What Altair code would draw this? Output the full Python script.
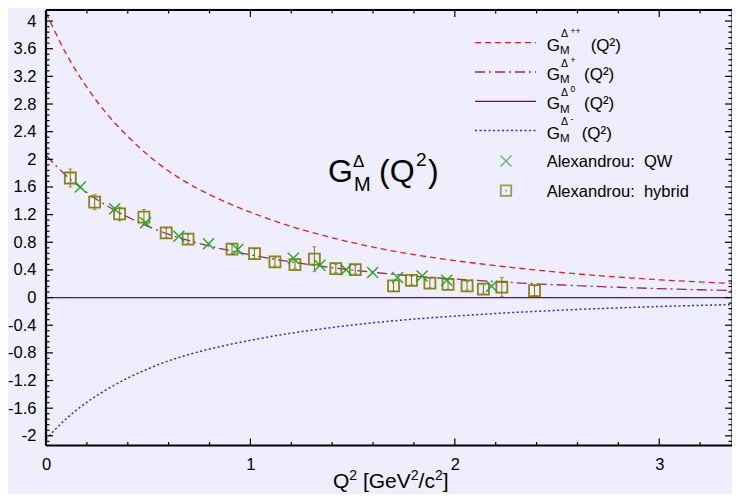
import altair as alt
import pandas as pd

# ---------------- data ----------------
curve_q2 = [0, 0.1, 0.2, 0.3, 0.4, 0.5, 0.6, 0.7, 0.8, 0.9, 1.0, 1.2, 1.4, 1.6, 1.8,
            2.0, 2.2, 2.4, 2.6, 2.8, 3.0, 3.2, 3.4]
g_pp = [4.12, 3.52, 3.04, 2.65, 2.33, 2.06, 1.83, 1.645, 1.49, 1.355, 1.235, 1.03,
        0.865, 0.73, 0.622, 0.535, 0.462, 0.398, 0.343, 0.297, 0.258, 0.226, 0.198]
g_p = [2.06, 1.76, 1.52, 1.325, 1.165, 1.03, 0.915, 0.823, 0.745, 0.678, 0.618, 0.515,
       0.433, 0.365, 0.311, 0.268, 0.231, 0.199, 0.172, 0.149, 0.129, 0.113, 0.099]
g_m = [-2.05, -1.75, -1.515, -1.325, -1.165, -1.03, -0.915, -0.823, -0.745, -0.678,
       -0.618, -0.515, -0.433, -0.365, -0.311, -0.268, -0.231, -0.199, -0.172,
       -0.149, -0.129, -0.113, -0.099]
g_0_q2 = [0, 3.4]
g_0 = [0, 0]

qw_q2 = [0.168, 0.336, 0.487, 0.65, 0.795, 0.938, 1.21, 1.34, 1.468, 1.598, 1.72,
         1.84, 1.96, 2.18]
qw_g = [1.598, 1.286, 1.084, 0.886, 0.78, 0.694, 0.57, 0.467, 0.404, 0.361, 0.289,
        0.312, 0.25, 0.163]

hy_q2 = [0.119, 0.238, 0.36, 0.479, 0.588, 0.695, 0.91, 1.02, 1.12, 1.218, 1.313,
         1.418, 1.513, 1.70, 1.788, 1.878, 1.967, 2.06, 2.14, 2.23, 2.39]
hy_g = [1.73, 1.38, 1.21, 1.165, 0.935, 0.845, 0.70, 0.635, 0.515, 0.478, 0.555,
        0.42, 0.405, 0.168, 0.25, 0.21, 0.19, 0.17, 0.122, 0.152, 0.10]
hy_err = [0.13, 0.11, 0.10, 0.11, 0.07, 0.07, 0.07, 0.07, 0.06, 0.06, 0.18,
          0.06, 0.06, 0.08, 0.06, 0.07, 0.07, 0.06, 0.06, 0.14, 0.07]

x_major = [0, 1, 2, 3]
y_major = [-2, -1.6, -1.2, -0.8, -0.4, 0, 0.4, 0.8, 1.2, 1.6, 2, 2.4, 2.8, 3.2, 3.6, 4]
# x-axis title "Q^2 [GeV^2/c^2]" as (text, superscript?, gap before) pieces
x_title_parts = [("Q", False, 0), ("2", True, 0), ("[GeV", False, 5.8), ("2", True, 0),
                 ("/c", False, 0), ("2", True, 0), ("]", False, 0)]

# ---------------- layout / style ----------------
W = 686
H = 435.5
X_DOM = [0, 3.356]
Y_DOM = [-2.14, 4.16]
FONT = "Liberation Sans"
BG = "#eeeeff"
C_PP = "#e0202c"
C_P = "#9a2466"
C_0 = "#4a1486"
C_M = "#2a2ae6"
C_QW = "#1faa1f"
C_HY = "#7c7a00"

xs = alt.Scale(domain=X_DOM, nice=False, zero=False)
ys = alt.Scale(domain=Y_DOM, nice=False, zero=False)
XA = alt.Axis(values=x_major, title=None, ticks=False, domain=False,
              grid=False, labelPadding=11, labelFontSize=16.5, labelColor="black",
              labelFont=FONT, labelFlush=False)
YA = alt.Axis(values=y_major, title=None, ticks=False, domain=False, grid=False,
              labelPadding=10, labelFontSize=16.5, labelColor="black",
              labelFont=FONT, labelFlush=False,
              labelExpr="datum.value < 0 ? '-' + format(-datum.value, '.1~f') : format(datum.value, '.1~f')")
one = pd.DataFrame({"a": [0]})


def ex(f):
    return alt.X(f"{f}:Q", scale=xs, axis=XA)


def ey(f):
    return alt.Y(f"{f}:Q", scale=ys, axis=YA)


def curve(q, g, color, dash, width=1.3):
    df = pd.DataFrame({"q2": q, "g": g})
    mk = dict(color=color, strokeWidth=width, interpolate="monotone", clip=True)
    if dash:
        mk["strokeDash"] = dash
    return alt.Chart(df).mark_line(**mk).encode(x=ex("q2"), y=ey("g"))


DASH_PP = [6, 4]
DASH_P = [10, 4, 2, 4]
DASH_M = [2, 2.5]

layers = []
layers.append(curve(g_0_q2, g_0, C_0, None, 1.3))
layers.append(curve(curve_q2, g_pp, C_PP, DASH_PP))
layers.append(curve(curve_q2, g_p, C_P, DASH_P))
layers.append(curve(curve_q2, g_m, C_M, DASH_M, 1.5))

# ---- hybrid data with error bars ----
hy = pd.DataFrame({"q2": hy_q2, "g": hy_g, "err": hy_err})
hy["lo"] = hy["g"] - hy["err"]
hy["hi"] = hy["g"] + hy["err"]
layers.append(alt.Chart(hy).mark_rule(color=C_HY, strokeWidth=1).encode(
    x=ex("q2"), y=ey("lo"), y2="hi:Q"))
for col in ["lo", "hi"]:
    layers.append(alt.Chart(hy).mark_point(shape="M-1,0L1,0", size=16, color=C_HY,
                                           strokeWidth=1, filled=False).encode(
        x=ex("q2"), y=ey(col)))
layers.append(alt.Chart(hy).mark_point(shape="square", size=121, filled=False, color=C_HY,
                                       strokeWidth=1.8, opacity=0.9).encode(
    x=ex("q2"), y=ey("g")))

# ---- QW data ----
qw = pd.DataFrame({"q2": qw_q2, "g": qw_g})
XSHAPE = "M-1,-1L1,1M-1,1L1,-1"
layers.append(alt.Chart(qw).mark_point(shape=XSHAPE, size=121, filled=False, color=C_QW,
                                       strokeWidth=1.4, opacity=1).encode(
    x=ex("q2"), y=ey("g")))

# ---- frame ticks (inward) ----
yidx = list(range(-26, 53))
ytick = pd.DataFrame({"v": [round(i * 0.08, 2) for i in yidx],
                      "major": [i % 5 == 0 for i in yidx]})
xidx = list(range(0, 17))
xtick = pd.DataFrame({"v": [round(i * 0.2, 2) for i in xidx],
                      "major": [i % 5 == 0 for i in xidx]})

for major, ln in [(True, 7), (False, 3.5)]:
    yd = ytick[ytick["major"] == major]
    xd = xtick[xtick["major"] == major]
    layers.append(alt.Chart(yd).mark_rule(color="black", strokeWidth=1.2).encode(
        y=ey("v"), x=alt.value(0), x2=alt.value(ln)))
    layers.append(alt.Chart(yd).mark_rule(color="black", strokeWidth=1.2).encode(
        y=ey("v"), x=alt.value(W), x2=alt.value(W - ln)))
    layers.append(alt.Chart(xd).mark_rule(color="black", strokeWidth=1.2).encode(
        x=ex("v"), y=alt.value(H), y2=alt.value(H - ln)))
    layers.append(alt.Chart(xd).mark_rule(color="black", strokeWidth=1.2).encode(
        x=ex("v"), y=alt.value(0), y2=alt.value(ln)))

# ---- frame border ----
layers.append(alt.Chart(one).mark_rule(color="black", strokeWidth=2.2).encode(
    x=alt.value(0), y=alt.value(0), y2=alt.value(H)))
layers.append(alt.Chart(one).mark_rule(color="black", strokeWidth=2.2).encode(
    x=alt.value(0), x2=alt.value(W), y=alt.value(H)))
layers.append(alt.Chart(one).mark_rule(color="black", strokeWidth=2.2).encode(
    x=alt.value(0), x2=alt.value(W), y=alt.value(0)))
layers.append(alt.Chart(one).mark_rule(color="black", strokeWidth=1).encode(
    x=alt.value(W), y=alt.value(0), y2=alt.value(H)))


def txt(s, x, y, size, baseline="alphabetic", align="left"):
    return alt.Chart(one).mark_text(text=s, align=align, baseline=baseline,
                                    fontSize=size, font=FONT, color="black").encode(
        x=alt.value(x), y=alt.value(y))


# ---- x axis title (pieces, superscripts raised) ----
EM = {"Q": 0.778, "2": 0.556, "[": 0.278, "G": 0.778, "e": 0.556,
      "V": 0.667, "/": 0.278, "c": 0.5, "]": 0.278}
TF, SF = 21, 14
cx = 287.0
for s, sup, gap in x_title_parts:
    fs = SF if sup else TF
    cx += gap
    layers.append(txt(s, cx, 470 if sup else 478, fs))
    cx += sum(EM[ch] for ch in s) * fs

# ---- legend ----
leg_lines = [(C_PP, DASH_PP, 1.3), (C_P, DASH_P, 1.3), (C_0, None, 1.3), (C_M, DASH_M, 1.5)]
leg_sup = ["++", "+", "0", "-"]
leg_q_x = [544.7, 538, 538, 535.7]
for i in range(4):
    c, d, w = leg_lines[i]
    mk = dict(color=c, strokeWidth=w)
    if d:
        mk["strokeDash"] = d
    ly = 32.7 + 29.3 * i
    bg = 40.7 + 29.3 * i
    layers.append(alt.Chart(one).mark_rule(**mk).encode(
        x=alt.value(429), x2=alt.value(490), y=alt.value(ly)))
    layers.append(txt("G", 500.7, bg, 17))
    layers.append(txt("Δ", 515, bg - 13.4, 10.5))
    layers.append(txt(leg_sup[i], 524.5, bg - 17, 8.5))
    layers.append(txt("M", 514, bg + 3.3, 11.5))
    layers.append(txt("(Q²)", leg_q_x[i], bg, 17))

layers.append(alt.Chart(one).mark_point(shape=XSHAPE, size=121, filled=False, color=C_QW,
                                        strokeWidth=1.4).encode(
    x=alt.value(460), y=alt.value(151)))
layers.append(alt.Chart(one).mark_point(shape="square", size=110, filled=False, color=C_HY,
                                        strokeWidth=1.8).encode(
    x=alt.value(460), y=alt.value(180.7)))
layers.append(alt.Chart(one).mark_point(shape="circle", size=3, filled=True, color=C_HY).encode(
    x=alt.value(460), y=alt.value(180.7)))
layers.append(txt("Alexandrou:\u00a0 QW", 500.7, 156.7, 16.5))
layers.append(txt("Alexandrou:\u00a0 hybrid", 500.7, 186.7, 16.5))

# ---- big annotation ----
layers.append(txt("G", 282, 172, 32))
layers.append(txt("Δ", 307, 157, 17))
layers.append(txt("M", 308, 181, 20))
layers.append(txt("(Q", 333, 172, 32))
layers.append(txt("2", 370, 156, 19))
layers.append(txt(")", 382, 172, 32))

chart = alt.layer(*layers).properties(
    width=W, height=H,
    autosize=alt.AutoSizeParams(type="none"),
    padding={"left": 38, "top": 2, "right": 0, "bottom": 48},
).configure_view(stroke=None).configure(background=BG, font=FONT)

chart.save("out.html", embed_options={"renderer": "svg", "actions": False})
